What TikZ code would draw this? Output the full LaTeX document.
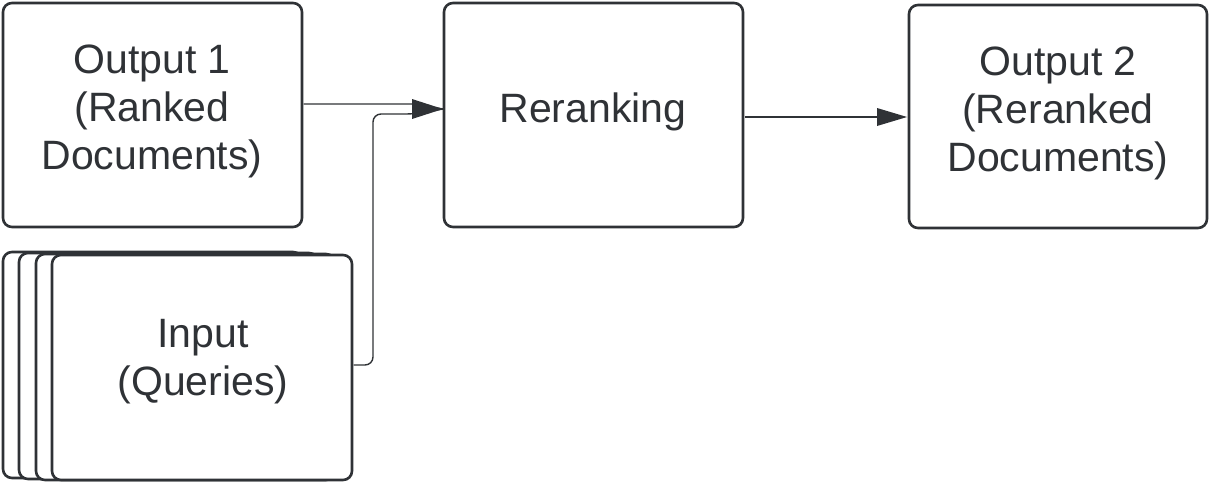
\documentclass[tikz,border=0pt]{standalone}
\usepackage{fontspec}
\setmainfont{Liberation Sans}
\definecolor{ink}{HTML}{2F3236}
\begin{document}
\begin{tikzpicture}[x=1pt,y=-1pt,
  box/.style={draw=ink,line width=2.6pt,rounded corners=9pt,fill=white},
  lbl/.style={text=ink,font=\fontsize{41}{48}\selectfont,align=center},
  conn/.style={draw=ink,line width=1.4pt},
  tip/.style={fill=ink,draw=none}]
\useasboundingbox (0,0) rectangle (1209,482);
\draw[box] (3,3) rectangle (302,227);
\node[lbl] (o1) at (152,111) {Output 1\\(Ranked\\Documents)};
\draw[box] (444,3) rectangle (743,227);
\node[lbl] (rr) at (593,112) {Reranking};
\draw[box] (909,5) rectangle (1207,228);
\node[lbl] (o2) at (1058,113) {Output 2\\(Reranked\\Documents)};
\draw[box] (3,252) rectangle (302,478);
\draw[box] (19,253) rectangle (318,479);
\draw[box] (36,254) rectangle (335,480);
\draw[box] (52,255) rectangle (352,480);
\node[lbl] (in) at (203,362) {Input\\(Queries)};
\coordinate (a1) at (303.5,104);
\coordinate (b1) at (414,104);
\coordinate (a2) at (353.5,365);
\coordinate (b2) at (414,114);
\coordinate (t) at (443,109);
\draw[conn] (a1) -- (b1) -- (t);
\draw[conn,rounded corners=8pt] (a2) -| (373,114) -- (b2) -- (t);
\fill[tip] (t) -- (412,99) -- (412,119) -- cycle;
\coordinate (c1) at (745,117);
\coordinate (t2) at (907,117);
\draw[conn] (c1) -- (880,117);
\fill[tip] (t2) -- (877,108) -- (877,126) -- cycle;
\end{tikzpicture}
\end{document}
